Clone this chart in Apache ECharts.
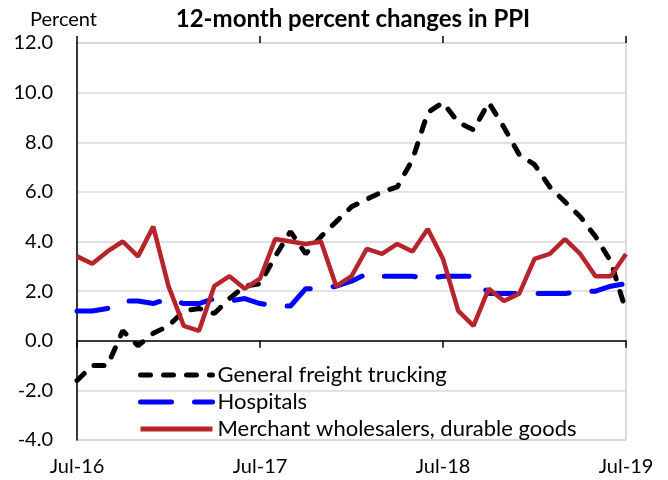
<!DOCTYPE html>
<html>
<head>
<meta charset="utf-8">
<script src="https://cdn.jsdelivr.net/npm/echarts@6/dist/echarts.min.js"></script>
<style>
  html, body { margin: 0; padding: 0; background: #fff; }
  #main { width: 668px; height: 480px; }
</style>
</head>
<body>
<div id="main"></div>
<script>
// months, Jul-16 .. Jul-19
var months = ['Jul-16','Aug-16','Sep-16','Oct-16','Nov-16','Dec-16','Jan-17','Feb-17','Mar-17','Apr-17','May-17','Jun-17',
              'Jul-17','Aug-17','Sep-17','Oct-17','Nov-17','Dec-17','Jan-18','Feb-18','Mar-18','Apr-18','May-18','Jun-18',
              'Jul-18','Aug-18','Sep-18','Oct-18','Nov-18','Dec-18','Jan-19','Feb-19','Mar-19','Apr-19','May-19','Jun-19',
              'Jul-19'];
// General freight trucking
var trucking = [-1.6,-1.0,-1.0,0.4,-0.2,0.3,0.6,1.2,1.3,1.1,1.7,2.2,
                2.3,3.4,4.4,3.5,4.2,4.8,5.4,5.7,6.0,6.2,7.3,9.2,
                9.6,8.8,8.5,9.6,8.6,7.5,7.1,6.2,5.6,5.0,4.2,3.2,
                1.2];
// Hospitals
var hospitals = [1.2,1.2,1.3,1.6,1.6,1.5,1.7,1.5,1.5,1.7,1.6,1.7,
                 1.5,1.4,1.4,2.1,2.1,2.2,2.4,2.7,2.6,2.6,2.6,2.5,
                 2.6,2.6,2.6,1.9,1.9,1.9,1.9,1.9,1.9,2.0,2.0,2.2,
                 2.3];
// Merchant wholesalers, durable goods
var wholesalers = [3.4,3.1,3.6,4.0,3.4,4.6,2.2,0.6,0.4,2.2,2.6,2.1,
                   2.5,4.1,4.0,3.9,4.0,2.2,2.6,3.7,3.5,3.9,3.6,4.5,
                   3.3,1.2,0.6,2.1,1.6,1.9,3.3,3.5,4.1,3.5,2.6,2.6,
                   3.5];

var font = 'Lato, "Liberation Sans", sans-serif';
var chart = echarts.init(document.getElementById('main'));

chart.setOption({
    animation: false,
    textStyle: { fontFamily: font },
    title: [
        { text: '12-month percent changes in PPI', left: 348, top: 2, textAlign: 'center',
          textStyle: { fontSize: 24, fontWeight: 'bold', color: '#000', fontFamily: font } },
        { text: 'Percent', left: 25, top: 5,
          textStyle: { fontSize: 20, fontWeight: 'normal', color: '#000', fontFamily: font } }
    ],
    grid: { left: 77, right: 42, top: 43, bottom: 40, show: true, borderColor: '#d0d0d0', borderWidth: 1.5 },
    legend: {
        orient: 'vertical',
        left: 138, top: 364, padding: 0,
        itemWidth: 72, itemHeight: 14, itemGap: 5,
        itemStyle: { opacity: 0 },
        lineStyle: { width: 5 },
        textStyle: { fontSize: 22, color: '#000', fontFamily: font },
        data: ['General freight trucking', 'Hospitals', 'Merchant wholesalers, durable goods']
    },
    xAxis: [
        {   // labels along the bottom
            type: 'category', data: months, boundaryGap: false, position: 'bottom',
            axisLine: { onZero: false, show: false },
            axisTick: { show: false },
            axisLabel: { interval: 11, fontSize: 20, color: '#000', margin: 17, fontFamily: font }
        },
        {   // zero line, ticks below
            type: 'category', data: months, boundaryGap: false, position: 'bottom',
            axisLine: { onZero: true, lineStyle: { color: '#000', width: 1.5 } },
            axisTick: { interval: 11, length: 7, lineStyle: { color: '#000', width: 1.5 } },
            axisLabel: { show: false }
        },
        {   // ticks above the zero line
            type: 'category', data: months, boundaryGap: false, position: 'top',
            axisLine: { onZero: true, show: false },
            axisTick: { show: true, interval: 11, length: 7, lineStyle: { color: '#000', width: 1.5 } },
            axisLabel: { show: false }
        }
    ],
    yAxis: {
        type: 'value', min: -4, max: 12, interval: 2,
        axisLine: { show: true, onZero: false, lineStyle: { color: '#000', width: 1.5 } },
        axisTick: { show: false },
        axisLabel: { fontSize: 20, color: '#000', margin: 24, fontFamily: font,
                     formatter: function (v) { return v.toFixed(1); } },
        splitLine: { lineStyle: { color: '#d9d9d9', width: 1.5 } }
    },
    series: [
        {
            name: 'General freight trucking', type: 'line', data: trucking, symbol: 'none',
            lineStyle: { color: '#000', width: 5, type: [10, 13], cap: 'round' },
            itemStyle: { color: '#000' }
        },
        {
            name: 'Hospitals', type: 'line', data: hospitals, symbol: 'none',
            lineStyle: { color: '#0000ff', width: 5, type: [31, 23], cap: 'round' },
            itemStyle: { color: '#0000ff' }
        },
        {
            name: 'Merchant wholesalers, durable goods', type: 'line', data: wholesalers, symbol: 'none',
            lineStyle: { color: '#b5252b', width: 4.5 },
            itemStyle: { color: '#b5252b' }
        }
    ]
});
</script>
</body>
</html>
